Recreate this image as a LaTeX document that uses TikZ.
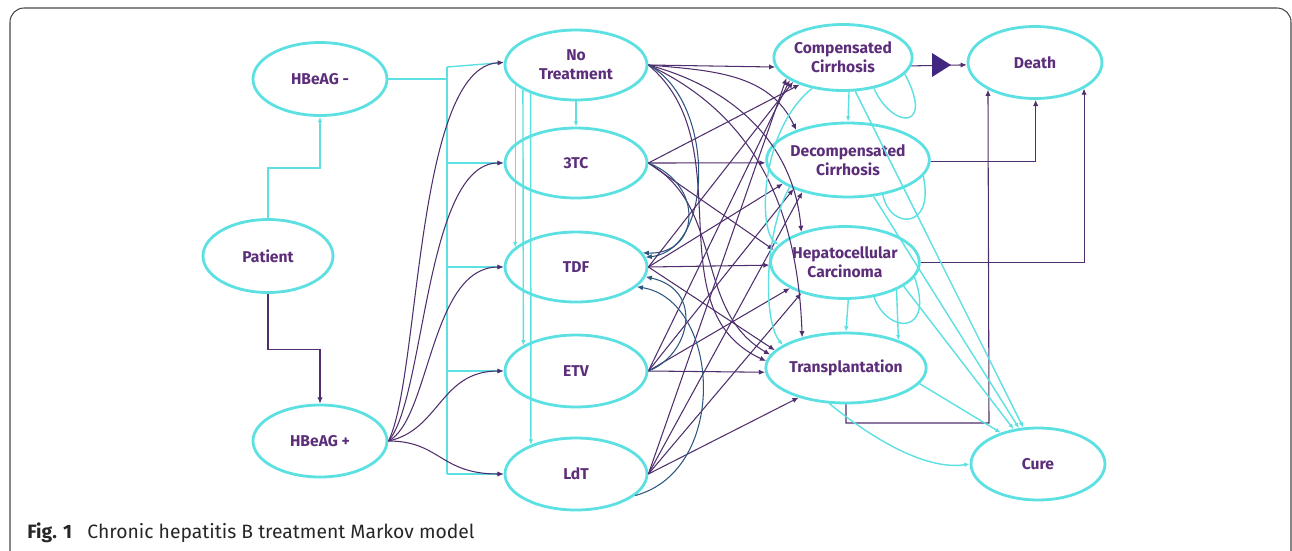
\documentclass[tikz,border=0pt]{standalone}
\usepackage{fontspec}
\setmainfont{Fira Sans}
\usetikzlibrary{shapes.geometric,arrows.meta}
\definecolor{cy}{RGB}{92,224,226}
\definecolor{pu}{RGB}{78,46,108}
\definecolor{tx}{RGB}{92,46,122}
\definecolor{tl}{RGB}{44,86,126}
\definecolor{fr}{RGB}{70,70,70}
\begin{document}
\begin{tikzpicture}[x=0.02cm,y=-0.02cm,
  st/.style={ellipse, draw=cy, line width=1.6pt, inner sep=0pt,
    font=\bfseries\fontsize{8.9}{10.8}\selectfont, text=tx, align=center},
  cl/.style={draw=cy, line width=0.8pt},
  pl/.style={draw=pu, line width=0.6pt},
  tlc/.style={draw=tl, line width=0.6pt},
  tip/.style={-{Latex[length=3.5pt,width=3pt]}},
  ctip/.style={-{Latex[length=3pt,width=2.6pt]}}]
\useasboundingbox (0,0) rectangle (1292,551);
\draw[fr, line width=0.6pt, rounded corners=8pt] (10,556) -- (10,8) -- (1291,8) -- (1291,556);

% nodes
\node[st, minimum width=2.68cm, minimum height=1.46cm] (hneg) at (320,79) {HBeAG -};
\node[st, minimum width=2.6cm, minimum height=1.46cm] (patient) at (268,256) {Patient};
\node[st, minimum width=2.68cm, minimum height=1.44cm] (hpos) at (320,441) {HBeAG +};
\node[st, minimum width=2.84cm, minimum height=1.4cm] (nt) at (576,65) {No\\Treatment};
\node[st, minimum width=2.84cm, minimum height=1.4cm] (tc) at (576,163) {3TC};
\node[st, minimum width=2.84cm, minimum height=1.4cm] (tdf) at (576,267) {TDF};
\node[st, minimum width=2.84cm, minimum height=1.44cm] (etv) at (576,371) {ETV};
\node[st, minimum width=2.84cm, minimum height=1.44cm] (ldt) at (576,474) {LdT};
\node[st, minimum width=2.66cm, minimum height=1.32cm] (cc) at (843,57.5) {Compensated\\Cirrhosis};
\node[st, minimum width=2.56cm, minimum height=1.48cm] (dc) at (848,160) {Decompensated\\Cirrhosis};
\node[st, minimum width=2.72cm, minimum height=1.44cm] (hcc) at (845,262.5) {Hepatocellular\\Carcinoma};
\node[st, minimum width=2.68cm, minimum height=1.4cm] (tr) at (846,368) {Transplantation};
\node[st, minimum width=2.68cm, minimum height=1.44cm] (death) at (1035,62.5) {Death};
\node[st, minimum width=2.68cm, minimum height=1.44cm] (cure) at (1038,464) {Cure};

% caption
\node[anchor=base west, inner sep=0pt, font=\fontsize{11}{13}\selectfont, text=black!85] (cap) at (27,538)
  {\textbf{Fig. 1}\hspace{0.8em}Chronic hepatitis B treatment Markov model};

% patient branches
\draw[cl,ctip] (patient.north) -- ++(0,-50) -| (hneg.south);
\draw[pl,tip] (patient.south) -- ++(0,56) -| (hpos.north);

% HBeAG- bus
\coordinate (bustop) at (447,67);
\coordinate (busbot) at (447,474);
\draw[cl] (hneg.east) -- (hneg.east -| bustop);
\draw[cl] (bustop) -- (busbot);
\draw[cl,ctip] (bustop) -- (nt.178);
\draw[cl,ctip] (bustop |- tc.west) -- (tc.west);
\draw[cl,ctip] (bustop |- tdf.west) -- (tdf.west);
\draw[cl,ctip] (bustop |- etv.west) -- (etv.west);
\draw[cl,ctip] (busbot) -- (ldt.west);

% no treatment to other treatments (cyan)
\draw[cl,ctip] (nt.south) -- (tc.north);
\draw[cl,ctip] (nt.198) -- (tdf.162);
\draw[cl,ctip] (nt.205) -- (etv.154);
\draw[cl,ctip] (nt.212) -- (ldt.147);

% HBeAG+ to treatments
\draw[pl,tip] (hpos.east) .. controls (420,380) and (415,67) .. (nt.178);
\draw[pl,tip] (hpos.east) .. controls (425,400) and (425,163) .. (tc.west);
\draw[pl,tip] (hpos.east) .. controls (430,420) and (430,267) .. (tdf.west);
\draw[pl,tip] (hpos.east) .. controls (440,430) and (440,371) .. (etv.west);
\draw[pl,tip] (hpos.east) .. controls (440,441) and (440,474) .. (ldt.west);

% No treatment to states
\draw[pl,tip] (nt.east) -- (cc.188);
\draw[pl,tip] (nt.east) to[out=-5,in=115] (dc.150);
\draw[pl,tip] (nt.east) to[out=-15,in=95] (hcc.145);
\draw[pl,tip] (nt.east) to[out=-25,in=92] (tr.145);
\draw[pl,tip] (nt.east) to[out=-40,in=155] (tr.175);
\draw[tlc,tip] (nt.east) .. controls (715,100) and (715,250) .. (tdf.8);

% 3TC to states
\draw[pl,tip] (tc.east) -- (dc.182);
\draw[pl,tip] (tc.east) -- (cc.212);
\draw[pl,tip] (tc.east) -- (hcc.170);
\draw[pl,tip] (tc.east) to[out=-30,in=150] (tr.170);
\draw[tlc,tip] (tc.east) .. controls (705,185) and (700,255) .. (tdf.12);

% TDF to states
\draw[pl,tip] (tdf.east) -- (hcc.182);
\draw[pl,tip] (tdf.east) -- (cc.206);
\draw[pl,tip] (tdf.east) -- (dc.200);
\draw[pl,tip] (tdf.east) -- (tr.166);

% ETV to states
\draw[pl,tip] (etv.east) -- (tr.183);
\draw[pl,tip] (etv.east) -- (cc.203);
\draw[pl,tip] (etv.east) -- (dc.208);
\draw[pl,tip] (etv.east) -- (hcc.205);
\draw[tlc,tip] (etv.east) .. controls (690,355) and (705,290) .. (tdf.-8);

% LdT to states
\draw[pl,tip] (ldt.east) -- (cc.200);
\draw[pl,tip] (ldt.east) -- (dc.215);
\draw[pl,tip] (ldt.east) -- (hcc.215);
\draw[pl,tip] (ldt.east) -- (tr.212);
\draw[tlc,tip] (ldt.-20) .. controls (730,470) and (720,300) .. (tdf.-18);

% states to death
\draw[pl,tip] (cc.-7) -- (death.182);
\fill[pu!85!blue] (932,53) -- (951,65) -- (932,77) -- cycle;
\draw[pl,tip] (dc.-1) -| (death.-89);
\draw[pl,tip] (hcc.east) -| (death.-28);
\coordinate (trc) at (989,423);
\draw[pl,tip] (tr.south) |- (trc) -- (death.-150);

% cyan transitions among states
\draw[cl,ctip] (cc.-80) -- (dc.north);
\draw[cl,ctip] (hcc.-85) -- (tr.north);
\draw[cl,ctip] (hcc.-28) -- (tr.28);
\draw[cl] (cc.-15) .. controls (935,130) and (893,130) .. (cc.-45);
\draw[cl] (dc.-12) .. controls (935,230) and (890,230) .. (dc.-45);
\draw[cl] (hcc.-12) .. controls (935,335) and (888,335) .. (hcc.-50);
\draw[cl,ctip] (dc.205) .. controls (765,230) and (762,320) .. (tr.160);
\draw[cl,ctip] (cc.225) .. controls (760,130) and (758,230) .. (hcc.165);
\draw[cl,ctip] (cc.-70) -- (cure.112);
\draw[cl,ctip] (dc.-55) -- (cure.118);
\draw[cl,ctip] (hcc.-22) -- (cure.125);
\draw[cl,ctip] (tr.-12) -- (cure.140);
\draw[cl,ctip] (tr.-115) .. controls (880,445) and (930,470) .. (cure.west);
\end{tikzpicture}
\end{document}
